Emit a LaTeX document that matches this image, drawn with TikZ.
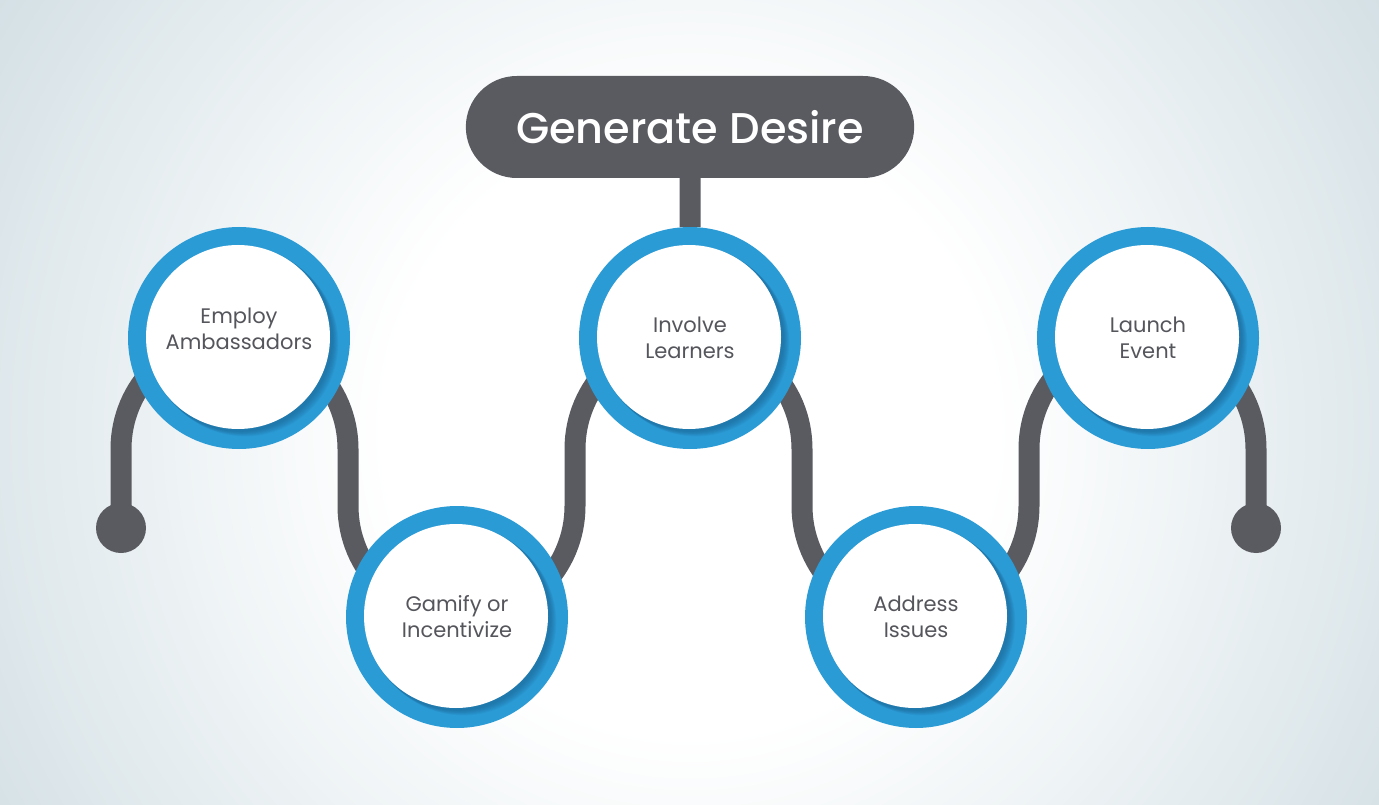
\documentclass[tikz,border=0pt]{standalone}
\usepackage{fontspec}
\setmainfont{Poppins}
\newfontfamily\headfont{Poppins Medium}
\usetikzlibrary{backgrounds,shapes.misc}
\definecolor{wire}{HTML}{5A5B61}
\definecolor{ringblue}{HTML}{2B9BD6}
\definecolor{ringdark}{HTML}{1B5F8C}
\definecolor{inkgray}{HTML}{55565C}
\definecolor{hazeA}{HTML}{EEF3F5}
\definecolor{hazeB}{HTML}{D4E0E5}
\definecolor{hazeC}{HTML}{C7D7DE}
\pgfdeclareradialshading{glow}{\pgfpoint{0bp}{0bp}}{color(0bp)=(white); color(9bp)=(white); color(15bp)=(hazeA); color(24bp)=(hazeB); color(29bp)=(hazeC); color(50bp)=(hazeC)}

\begin{document}
\begin{tikzpicture}[x=1pt,y=-1pt,
  wireline/.style={line width=21pt,draw=wire},
  stepring/.style={circle,minimum size=222pt,inner sep=0pt,fill=ringblue,text=inkgray,align=center,
    font=\fontsize{21}{26}\selectfont,
    path picture={
      \foreach \s in {1,...,9} {\fill[ringdark,opacity=0.08] ([shift={(\s*0.7pt,-\s*0.6pt)}]path picture bounding box.center) circle (93pt);}
      \fill[white] ([shift={(-1pt,1pt)}]path picture bounding box.center) circle (92pt);}},
  enddot/.style={circle,minimum size=50pt,inner sep=0pt,fill=wire},
  headline/.style={rounded rectangle,minimum width=455pt,minimum height=102pt,fill=wire,text=white,
    font=\headfont\fontsize{43}{52}\selectfont}]
\useasboundingbox (0,0) rectangle (1379,805);
% title and the five steps
\node[headline] (title) at (690,127) {Generate Desire};
\node[stepring] (c1) at (239,338) {Employ\\Ambassadors\\[-8pt]\mbox{}};
\node[stepring] (c2) at (457,617) {Gamify or\\Incentivize};
\node[stepring] (c3) at (690,338) {Involve\\Learners};
\node[stepring] (c4) at (916,617) {Address\\Issues};
\node[stepring] (c5) at (1148,338) {Launch\\Event};
\node[enddot] (dotL) at (121,528) {};
\node[enddot] (dotR) at (1256,528) {};
% backdrop and the winding line behind the rings
\begin{scope}[on background layer]
 \clip (0,0) rectangle (1379,805);
 \shade[shading=glow] (-160,-420) rectangle (1540,1280);
 \draw[wireline] (title) -- (c3);
 \draw[wireline] (dotL.center) -- (121,449) arc[start angle=180,end angle=360,radius=113.5]
   -- (348,506) arc[start angle=180,end angle=0,radius=113.5]
   -- (575,449) arc[start angle=180,end angle=360,radius=113.5]
   -- (802,506) arc[start angle=180,end angle=0,radius=113.5]
   -- (1029,449) arc[start angle=180,end angle=360,radius=113.5]
   -- (dotR.center);
\end{scope}
\end{tikzpicture}
\end{document}
